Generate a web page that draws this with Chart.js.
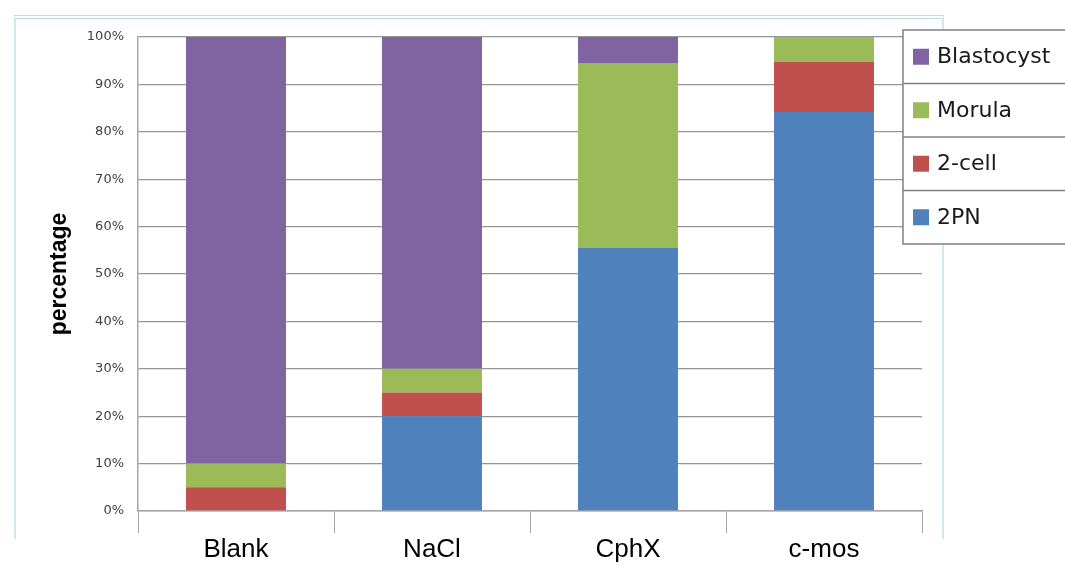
<!DOCTYPE html>
<html>
<head>
<meta charset="utf-8">
<script src="https://cdn.jsdelivr.net/npm/chart.js@4/dist/chart.umd.min.js"></script>
<style>
  html, body { margin: 0; padding: 0; background: #ffffff; }
  #wrap { position: relative; width: 1065px; height: 565px; overflow: hidden; }
  #frame {
    position: absolute; left: 14px; top: 15px; width: 926px; height: 520px;
    border-left: 2px solid #cfe8ec; border-right: 2px solid #cfe8ec; border-top: 4px double #bcdde3;
  }
  canvas { position: absolute; left: 0; top: 0; }
</style>
</head>
<body>
<div id="wrap">
  <div id="frame"></div>
  <canvas id="c" width="1065" height="565"></canvas>
</div>
<script>
// Embryo development stage per treatment group (percent of embryos)
const groups = ['Blank', 'NaCl', 'CphX', 'c-mos'];
const stage2PN = [0, 20, 55.6, 84.2];
const stage2Cell = [5, 5, 0, 10.5];
const stageMorula = [5, 5, 38.9, 5.3];
const stageBlastocyst = [90, 70, 5.5, 0];
const yTicks = [0, 10, 20, 30, 40, 50, 60, 70, 80, 90, 100];

const COLORS = {
  pn: '#4F81BD',
  cell: '#C0504D',
  morula: '#9BBB59',
  blast: '#8064A2'
};

// Boxed legend with separator rows, listed top stage first
const boxedLegend = {
  id: 'boxedLegend',
  afterDraw(chart) {
    const ctx = chart.ctx;
    const items = chart.data.datasets.slice().reverse();
    const left = 903, top = 30, rowH = 53.5, width = 170;
    ctx.save();
    ctx.fillStyle = '#ffffff';
    ctx.fillRect(left, top, width, rowH * items.length);
    ctx.strokeStyle = '#808080';
    ctx.lineWidth = 1.5;
    ctx.strokeRect(left, top, width, rowH * items.length);
    items.forEach((ds, i) => {
      const y = top + i * rowH;
      if (i > 0) {
        ctx.beginPath();
        ctx.moveTo(left, y);
        ctx.lineTo(left + width, y);
        ctx.stroke();
      }
      const cy = y + rowH / 2;
      ctx.fillStyle = ds.backgroundColor;
      ctx.fillRect(913, cy - 8, 16, 16);
      ctx.fillStyle = '#1a1a1a';
      ctx.font = '22px "DejaVu Sans"';
      ctx.textBaseline = 'middle';
      ctx.textAlign = 'left';
      ctx.fillText(ds.label, 937, cy + 1);
    });
    ctx.restore();
  }
};

new Chart(document.getElementById('c'), {
  type: 'bar',
  data: {
    labels: groups,
    datasets: [
      { label: '2PN', data: stage2PN, backgroundColor: COLORS.pn },
      { label: '2-cell', data: stage2Cell, backgroundColor: COLORS.cell },
      { label: 'Morula', data: stageMorula, backgroundColor: COLORS.morula },
      { label: 'Blastocyst', data: stageBlastocyst, backgroundColor: COLORS.blast }
    ]
  },
  options: {
    responsive: false,
    animation: false,
    layout: { padding: { left: 42, top: 37, right: 143, bottom: 0 } },
    datasets: { bar: { barPercentage: 0.51, categoryPercentage: 1.0, borderWidth: 0 } },
    plugins: {
      legend: { display: false },
      tooltip: { enabled: false }
    },
    scales: {
      x: {
        stacked: true,
        afterFit(scale) { scale.height = 54; },
        grid: {
          offset: true,
          drawOnChartArea: false,
          drawTicks: true,
          tickLength: 22,
          color: '#a6a6a6',
          lineWidth: 1
        },
        border: { display: true, color: '#a6a6a6', width: 1.5 },
        ticks: {
          color: '#000000',
          font: { family: '"Liberation Sans", Arial, sans-serif', size: 26 },
          padding: 1
        }
      },
      y: {
        stacked: true,
        min: 0,
        max: 100,
        afterFit(scale) { scale.width = 96; },
        afterBuildTicks(scale) { scale.ticks = yTicks.map(v => ({ value: v })); },
        grid: { color: '#959595', lineWidth: 1.3, drawTicks: false },
        border: { display: true, color: '#a6a6a6', width: 1.5 },
        ticks: {
          color: '#404040',
          font: { family: '"DejaVu Sans", sans-serif', size: 13 },
          padding: 14,
          callback: v => v + '%'
        },
        title: {
          display: true,
          text: 'percentage',
          color: '#000000',
          font: { family: '"Liberation Sans", Arial, sans-serif', size: 23, weight: 'bold' },
          padding: { top: 4, bottom: 0 }
        }
      }
    }
  },
  plugins: [boxedLegend]
});
</script>
</body>
</html>
